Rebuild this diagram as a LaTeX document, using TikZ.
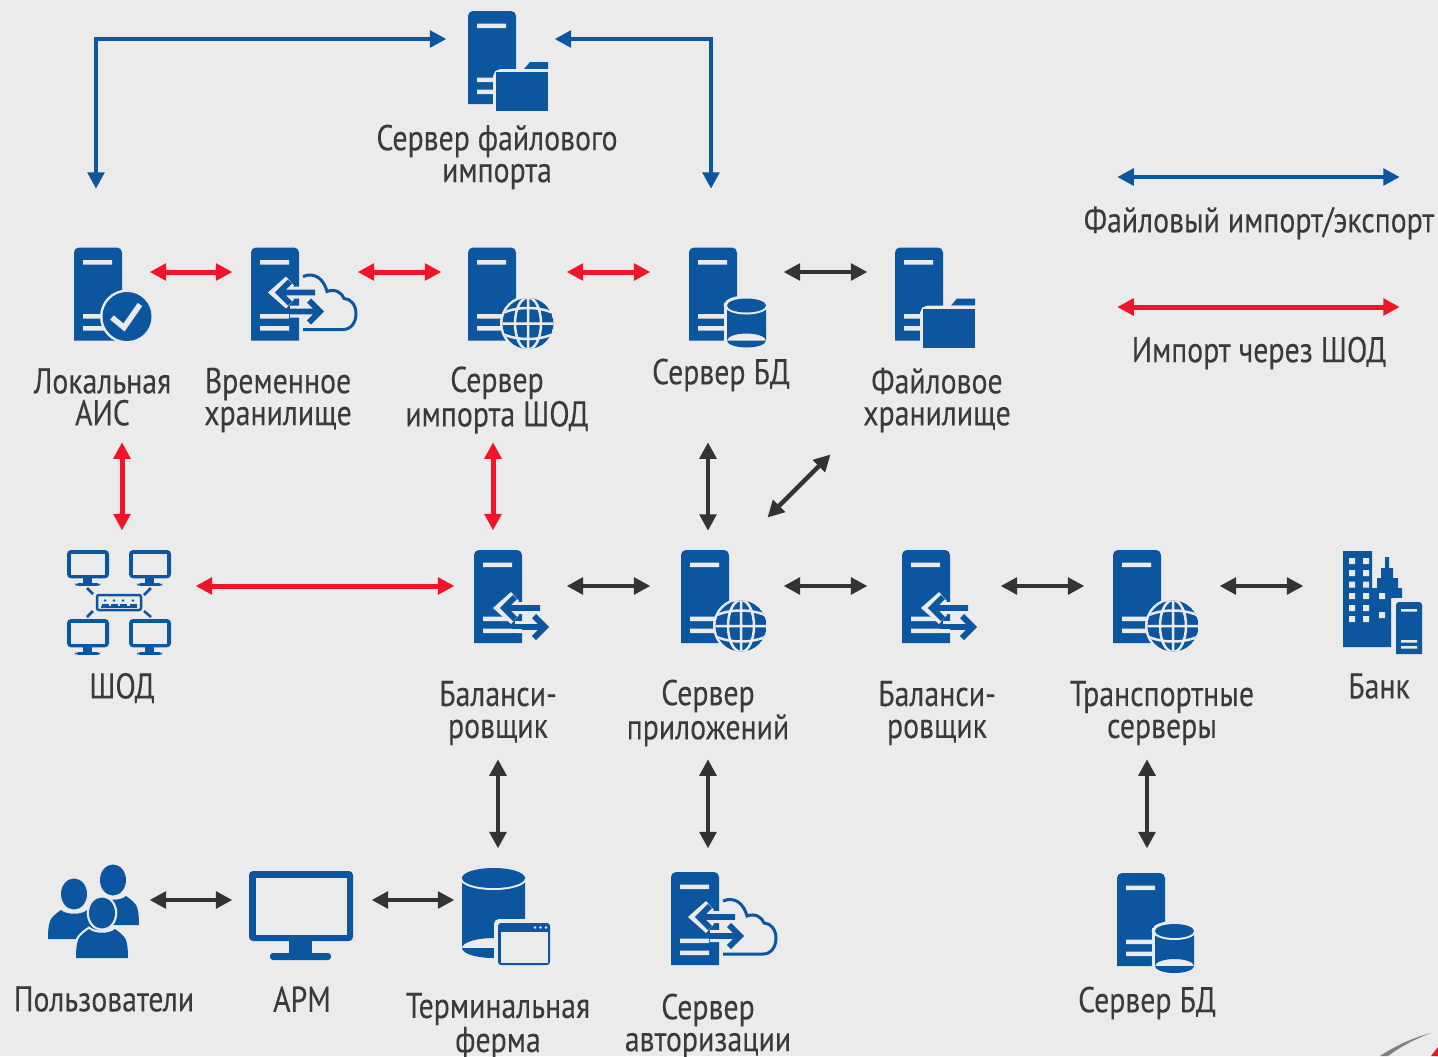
\documentclass[tikz,border=0pt]{standalone}
\usepackage{fontspec}
\setmainfont[FakeStretch=0.832,FakeBold=0.12]{PT Sans}
\usetikzlibrary{arrows.meta}
\definecolor{paper}{HTML}{EBEBEB}
\definecolor{iconblue}{HTML}{0C56A0}
\definecolor{linkred}{HTML}{F01428}
\definecolor{linkdark}{HTML}{333333}
\definecolor{labeldark}{HTML}{3A3A3A}
% cylinder: centre x, y of the top ellipse, rx, ry, y of the bottom
\newcommand{\cylshape}[5]{
	\draw[paper,line width=.12cm,fill=paper] ({#1-#3},#2) rectangle ({#1+#3},{#5-#4}) ({#1},{#5-#4}) ellipse (#3 and #4) ({#1},#2) ellipse (#3 and #4);
	\fill[iconblue] ({#1-#3},#2) rectangle ({#1+#3},{#5-#4}) ({#1},{#5-#4}) ellipse (#3 and #4);
	\path[fill=iconblue,preaction={draw=paper,line width=.08cm}] ({#1},#2) ellipse (#3 and #4);
}
\tikzset{
	iconbox/.style 2 args={inner sep=0pt,minimum width=#1*.02cm,minimum height=#2*.02cm},
	caption/.style={inner sep=0pt,align=center,text=labeldark,font=\fontsize{20.4}{18.2}\selectfont},
	tipped/.style={<->,>={Triangle[length=.33cm,width=.33cm]},shorten <=-.015cm,shorten >=-.015cm},
	redlink/.style={tipped,draw=linkred,line width=.1cm},
	darklink/.style={tipped,draw=linkdark,line width=.09cm},
	bluelink/.style={tipped,draw=iconblue,line width=.09cm,line join=miter},
	pics/server/.style={code={
		\fill[iconblue] (0,93) [rounded corners=.1cm] -- (0,0) -- (48,0) [sharp corners] -- (48,93) -- cycle;
		\fill[paper] (9,12.5) rectangle (38,17) (9,66.5) rectangle (38,71) (9,78.5) rectangle (38,83);
	}},
	pics/globe/.style={code={
		\fill[paper] (0,0) circle (28);
		\begin{scope}
			\clip (0,0) circle (25.5);
			\fill[iconblue] (0,0) circle (25.5);
			\draw[paper,line width=.05cm] (0,-26) -- (0,26) (-26,0) -- (26,0) (0,0) ellipse (13 and 26)
				(-24,-11) .. controls (-10,-17) and (10,-17) .. (24,-11)
				(-24,11) .. controls (-10,17) and (10,17) .. (24,11);
		\end{scope}
	}},
	pics/swaparrows/.style={code={
		\draw[paper,line width=.24cm,miter limit=10] (6,0) -- (38,0) (13,-11.5) -- (0,0) -- (13,11.5);
		\draw[paper,line width=.24cm,miter limit=10] (13,19) -- (45,19) (32,7.5) -- (45,19) -- (32,30.5);
		\draw[iconblue,line width=.115cm,miter limit=10] (6,0) -- (38,0) (13,-11) -- (2,0) -- (13,11);
		\draw[iconblue,line width=.115cm,miter limit=10] (13,19) -- (43,19) (32,8) -- (43,19) -- (32,30);
	}},
	pics/servercheck/.style={code={
		\pic {server};
		\fill[paper] (53,69) circle (27);
		\fill[iconblue] (53,69) circle (24.5);
		\draw[paper,line width=.11cm] (38,70) -- (50,80) -- (66,57);
	}},
	pics/servercloud/.style={code={
		\pic {server};
		\draw[iconblue,line width=.06cm] (52,29) .. controls (64,24) and (73,32) .. (76,44)
			.. controls (84,41) and (91,45) .. (93,51) .. controls (100,51) and (105,58) .. (105,66)
			.. controls (105,75) and (100,82) .. (92,82) -- (52,82);
		\pic at (26,45) {swaparrows};
	}},
	pics/serverglobe/.style={code={
		\pic {server};
		\pic at (60,76) {globe};
	}},
	pics/serverdb/.style={code={
		\pic {server};
		\cylshape{57.5}{58}{19.5}{7}{100}
	}},
	pics/serverfolder/.style={code={
		\pic {server};
		\fill[paper] (56,48) rectangle (84,60);
		\fill[iconblue] (56,58) -- (62,51) -- (80,51) -- (80,58) -- cycle;
		\draw[paper,line width=.12cm,rounded corners=.1cm] (28,100) -- (28,61) -- (80,61);
		\fill[iconblue] (28,61) rectangle (80,100);
	}},
	pics/serverswap/.style={code={
		\pic {server};
		\pic at (28,58) {swaparrows};
		\fill[paper] (38,78.5) rectangle (48,83);
	}},
	pics/monitor/.style={code={
		\fill[iconblue,rounded corners=.08cm] (0,0) rectangle (104,70);
		\fill[paper] (#1,#1) rectangle ({104-#1},{70-#1});
		\fill[iconblue] (40,70) -- (63,70) -- (63,84) -- (40,84) -- cycle;
		\fill[iconblue,rounded corners=.06cm] (21,82) rectangle (82,89);
	}},
	pics/person/.style={code={
		\path[fill=iconblue,preaction={draw=paper,line width=.09cm}] (0,0) ellipse (13 and 15.5);
		\path[fill=iconblue,preaction={draw=paper,line width=.09cm}] (-26,45) .. controls (-26,35) and (-25,28) .. (-23,25)
			.. controls (-21,22) and (-16,18) .. (-13,16) .. controls (-8,21) and (8,21) .. (13,16)
			.. controls (16,18) and (21,22) .. (23,25) .. controls (25,28) and (26,35) .. (26,45) -- cycle;
	}},
}
\begin{document}
\begin{tikzpicture}[x=.02cm,y=-.02cm]
	\fill[paper] (0,0) rectangle (1438,1056);
	\useasboundingbox (0,0) rectangle (1438,1056);
	% boxes that hold the icons, the links run between their sides
	\node[iconbox={109}{68}] (fileimp) at (500.5,39) {};
	\node[iconbox={126}{64}] (ais) at (87,272) {};
	\node[iconbox={126}{64}] (tempstore) at (295,272) {};
	\node[iconbox={126}{64}] (shodimp) at (504,272) {};
	\node[iconbox={134}{64}] (dbsrv) at (717,272) {};
	\node[iconbox={118}{64}] (filestore) at (926,272) {};
	\node[iconbox={148}{112}] (shod) at (122,586) {};
	\node[iconbox={113}{112}] (balleft) at (510.5,586) {};
	\node[iconbox={134}{112}] (appsrv) at (717,586) {};
	\node[iconbox={134}{112}] (balright) at (934,586) {};
	\node[iconbox={136}{112}] (transport) at (1152,586) {};
	\node[iconbox={117}{112}] (bank) at (1361.5,586) {};
	\node[iconbox={106}{104}] (users) at (97,900) {};
	\node[iconbox={140}{104}] (arm) at (302,900) {};
	\node[iconbox={114}{104}] (terminal) at (511,900) {};
	\node[iconbox={116}{104}] (authsrv) at (708,900) {};
	\node[iconbox={90}{104}] (dbtwo) at (1147,900) {};
	% icons
	\pic at (468,11) {serverfolder};
	\pic at (74,247.5) {servercheck};
	\pic at (251,247.5) {servercloud};
	\pic at (468,247.5) {serverglobe};
	\pic at (689,247.5) {serverdb};
	\pic at (895,247.5) {serverfolder};
	\pic at (474,550) {serverswap};
	\pic at (681,550) {serverglobe};
	\pic at (902,550) {serverswap};
	\pic at (1113,550) {serverglobe};
	\pic at (671,872) {servercloud};
	\pic at (1117,873) {serverdb};
	% shod
	\foreach \mx/\my in {67/550,129/550,67/619,129/619}
		\pic[scale=.404] at (\mx,\my) {monitor=9};
	\draw[iconblue,line width=.05cm] (87,588) -- (93,594) (151,588) -- (144,595) (87,617) -- (93,611) (151,617) -- (144,611);
	\draw[iconblue,line width=.05cm,rounded corners=.04cm] (97,595) rectangle (141,610);
	\draw[iconblue,line width=.04cm] (101,606.5) -- (137,606.5);
	\foreach \hx in {105,114,123,133}{
		\fill[iconblue] (\hx,600.5) circle (1.4);
		\fill[iconblue] (\hx-3.5,603.5) rectangle (\hx+3.5,605.5);
	}
	% bank
	\fill[iconblue] (1343,551) -- (1372,551) -- (1372,588) -- (1377,588) -- (1377,578) -- (1381,578) -- (1381,568) -- (1385,568) -- (1385,557) -- (1389,557) -- (1389,568) -- (1393,568) -- (1393,578) -- (1398,578) -- (1398,588) -- (1402,588) -- (1402,598) -- (1391,598) -- (1391,647) -- (1343,647) -- cycle;
	\foreach \wy in {558,570,581.5,593,605,616}
		\fill[paper] (1349,\wy) rectangle +(6,6) (1363,\wy) rectangle +(6,6);
	\fill[paper] (1379,593) rectangle +(6,6) (1379,612) rectangle +(6,6);
	\fill[paper,rounded corners=.08cm] (1392,598) rectangle (1426,658);
	\fill[iconblue] (1396,654) [rounded corners=.06cm] -- (1396,602) -- (1422,602) [sharp corners] -- (1422,654) -- cycle;
	\fill[paper] (1401,609) rectangle (1417,611.5) (1401,640) rectangle (1417,642.5) (1401,646) rectangle (1417,648.5);
	% users, monitor, terminal farm
	\pic at (113,880) {person};
	\pic at (74,894) {person};
	\pic at (102,913) {person};
	\pic at (249,871) {monitor=6.5};
	\cylshape{493.5}{878}{31.5}{10}{958}
	\fill[paper,rounded corners=.1cm] (494,919) rectangle (554,970);
	\fill[iconblue,rounded corners=.06cm] (498,923) rectangle (550,965);
	\fill[paper] (500.5,931.5) rectangle (547.5,962.5);
	\foreach \dx in {535,540.5,546}
		\fill[paper] (\dx,927.5) circle (1.3);
	% captions
	\node[caption] (fileimptext) at (497,157) {Сервер файлового\\импорта};
	\node[caption] (aistext) at (102.5,397) {Локальная\\АИС};
	\node[caption] (tempstoretext) at (278,400) {Временное\\хранилище};
	\node[caption] (shodimptext) at (497,400) {Сервер\\импорта ШОД};
	\node[caption] (dbsrvtext) at (721,375) {Сервер БД};
	\node[caption] (filestoretext) at (937,400) {Файловое\\хранилище};
	\node[caption] (legendblue) at (1259,223) {Файловый импорт/экспорт};
	\node[caption] (legendred) at (1259,353) {Импорт через ШОД};
	\node[caption] (shodtext) at (122,688) {ШОД};
	\node[caption] (ballefttext) at (498,713) {Баланси-\\ровщик};
	\node[caption] (appsrvtext) at (708,713) {Сервер\\приложений};
	\node[caption] (balrighttext) at (937,713) {Баланси-\\ровщик};
	\node[caption] (transporttext) at (1162,713) {Транспортные\\серверы};
	\node[caption] (banktext) at (1379,686) {Банк};
	\node[caption] (userstext) at (104,999) {Пользователи};
	\node[caption] (armtext) at (302,999) {АРМ};
	\node[caption] (terminaltext) at (498,1026) {Терминальная\\ферма};
	\node[caption] (authsrvtext) at (708,1026) {Сервер\\авторизации};
	\node[caption] (dbtwotext) at (1147,1003) {Сервер БД};
	% free ends of the links
	\coordinate (aisfile) at (96,188);
	\coordinate (dbfile) at (711,188);
	\coordinate (aisdown) at (122,443);
	\coordinate (shoddown) at (493,443);
	\coordinate (dbdown) at (708,443);
	\coordinate (appup) at (708,530);
	\coordinate (storediag) at (830,455);
	\coordinate (appdiag) at (768,517);
	\coordinate (baldown) at (498,760);
	\coordinate (appdown) at (708,760);
	\coordinate (transdown) at (1147,760);
	\coordinate (legendbluel) at (1118,177);
	\coordinate (legendbluer) at (1399,177);
	\coordinate (legendredl) at (1118,307);
	\coordinate (legendredr) at (1399,307);
	% links
	\draw[bluelink] (aisfile) |- (fileimp.west);
	\draw[bluelink] (dbfile) |- (fileimp.east);
	\draw[bluelink] (legendbluel) -- (legendbluer);
	\draw[redlink] (legendredl) -- (legendredr);
	\draw[redlink] (ais.east) -- (tempstore.west);
	\draw[redlink] (tempstore.east) -- (shodimp.west);
	\draw[redlink] (shodimp.east) -- (dbsrv.west);
	\draw[darklink] (dbsrv.east) -- (filestore.west);
	\draw[redlink] (aisdown) -- (shod.north);
	\draw[redlink] (shoddown) -- (shoddown |- balleft.north);
	\draw[darklink] (dbdown) -- (appup);
	\draw[darklink] (storediag) -- (appdiag);
	\draw[redlink] (shod.east) -- (balleft.west);
	\draw[darklink] (balleft.east) -- (appsrv.west);
	\draw[darklink] (appsrv.east) -- (balright.west);
	\draw[darklink] (balright.east) -- (transport.west);
	\draw[darklink] (transport.east) -- (bank.west);
	\draw[darklink] (baldown) -- (baldown |- terminal.north);
	\draw[darklink] (appdown) -- (authsrv.north);
	\draw[darklink] (transdown) -- (dbtwo.north);
	\draw[darklink] (users.east) -- (arm.west);
	\draw[darklink] (arm.east) -- (terminal.west);
	% logo corner
	\fill[gray] (1431,1033) .. controls (1412,1038) and (1395,1046) .. (1380,1056) -- (1388,1056) .. controls (1400,1047) and (1415,1039) .. cycle;
	\fill[linkred] (1438,1047) -- (1431,1056) -- (1438,1056) -- cycle;
\end{tikzpicture}
\end{document}
